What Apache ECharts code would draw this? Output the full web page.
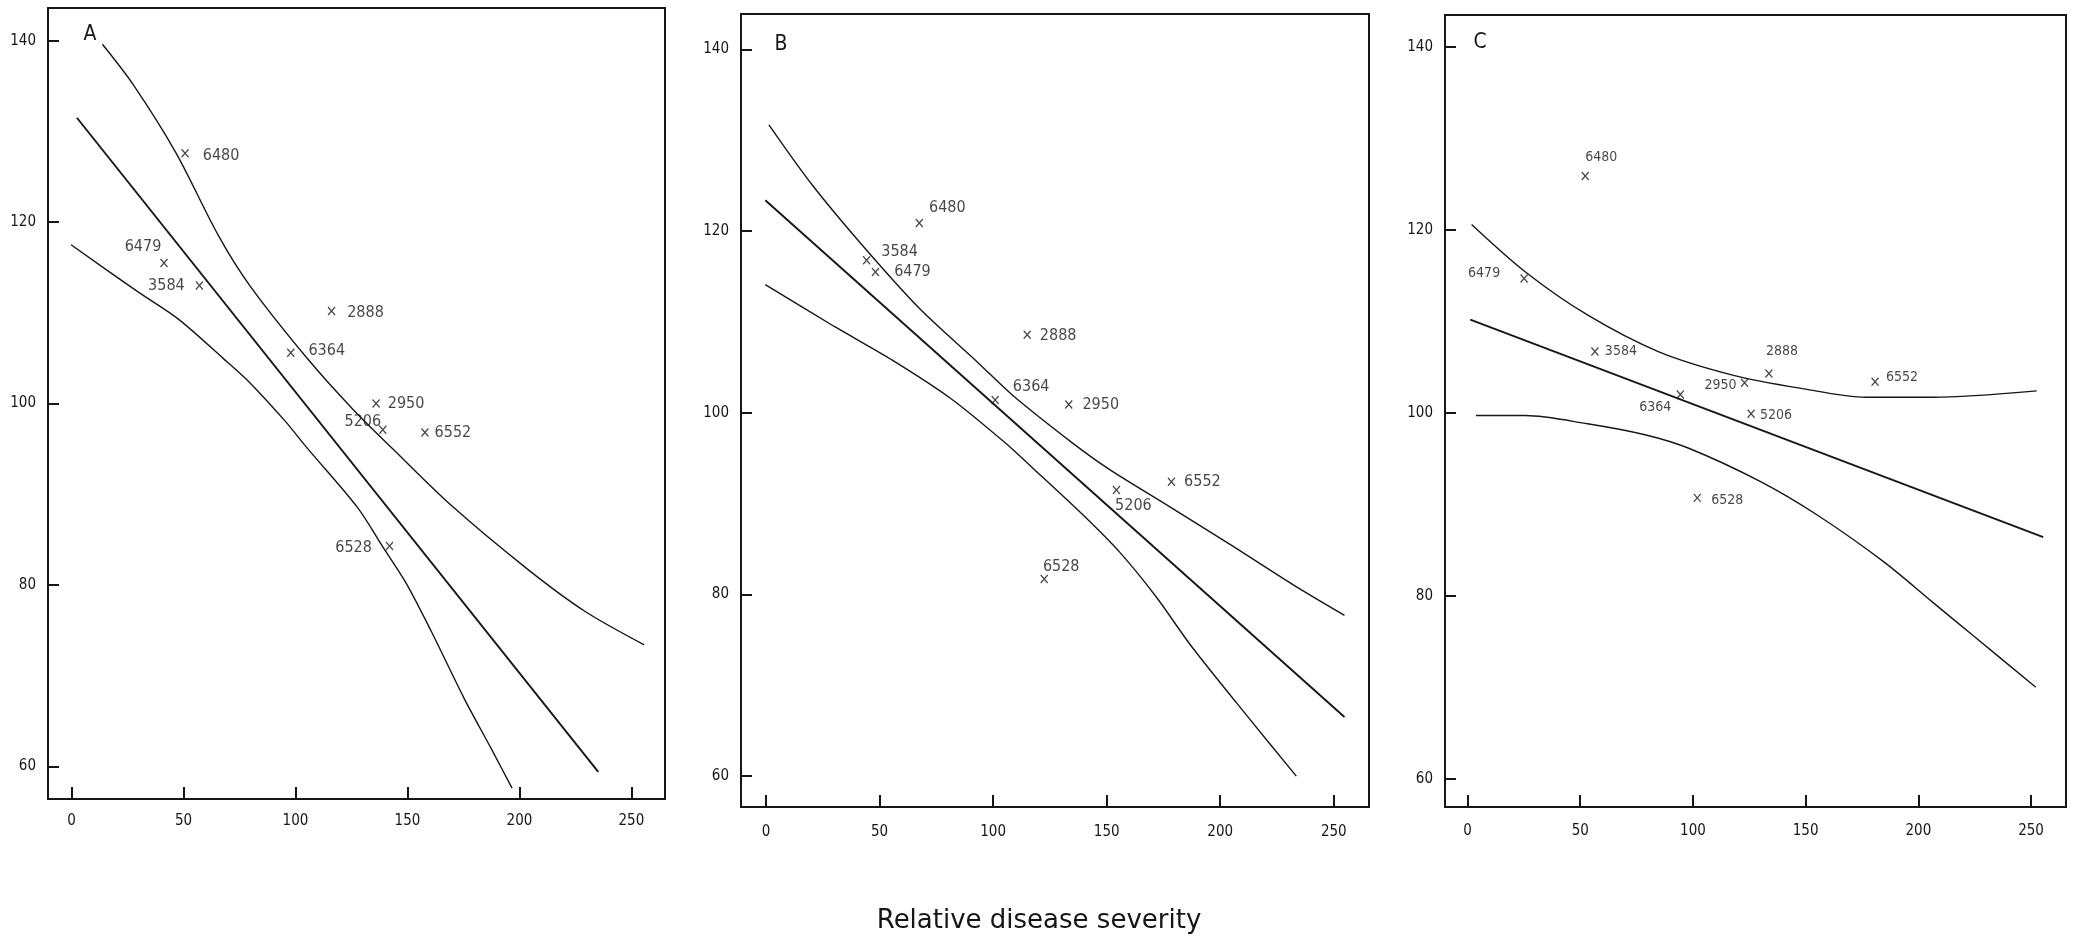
<!DOCTYPE html>
<html><head><meta charset="utf-8">
<script src="https://cdn.jsdelivr.net/npm/echarts@6/dist/echarts.min.js"></script>
<style>html,body{margin:0;padding:0;background:#fff}#chart{width:2073px;height:937px}</style>
</head><body><div id="chart"></div>
<script>
// ---------- data ----------
const genotypes = ['6480','6479','3584','2888','6364','2950','5206','6552','6528'];
const xTickValues = [0, 50, 100, 150, 200, 250];
const yTickValues = [60, 80, 100, 120, 140];
const panelNames = ['A', 'B', 'C'];
const xAxisTitle = 'Relative disease severity';

// Panel A
const aSeverity = [50.7, 41.3, 57.1, 116.1, 97.9, 136.0, 139.0, 157.8, 142.0];
const aValue    = [127.6, 115.5, 113.0, 110.2, 105.6, 100.0, 97.1, 96.8, 84.3];
const aUpper = [[13.8,139.6],[27.7,135.1],[46.7,127.6],[65.6,118.5],[79.6,113.0],[105.5,104.9],[125.5,99.4],[143.4,95.0],[169.4,88.8],[203.3,81.8],[229.2,77.1],[255.7,73.4]];
const aFit   = [[2.4,131.5],[235.2,59.4]];
const aLower = [[-0.2,117.5],[29.7,112.3],[47.7,109.3],[67.6,105.0],[79.6,102.3],[95.6,98.0],[104.5,95.3],[127.5,88.6],[139.0,84.2],[149.4,80.2],[160.4,75.0],[175.3,67.5],[187.3,62.0],[196.7,57.6]];

// Panel B
const bSeverity = [67.5, 48.2, 44.3, 115.0, 100.9, 133.3, 154.3, 178.5, 122.5];
const bValue    = [120.9, 115.5, 116.8, 108.6, 101.4, 100.9, 91.5, 92.4, 81.7];
const bUpper = [[1.3,131.7],[20.3,125.1],[42.9,118.3],[67.5,111.5],[93.0,105.6],[108.7,101.9],[134.3,96.8],[151.0,93.8],[177.5,89.7],[205.0,85.4],[232.5,81.0],[254.7,77.7]];
const bFit   = [[-0.3,123.4],[254.7,66.5]];
const bLower = [[-0.3,114.1],[30.1,109.5],[55.6,105.8],[81.2,101.6],[104.8,96.8],[117.5,93.9],[140.2,88.6],[155.9,84.6],[171.6,79.8],[187.3,74.3],[212.9,66.3],[233.5,60.0]];

// Panel C
const cSeverity = [52.2, 25.1, 56.5, 133.7, 94.4, 122.9, 125.8, 180.8, 101.9];
const cValue    = [125.9, 114.7, 106.7, 104.3, 102.0, 103.3, 99.9, 103.4, 90.7];
const cUpper = [[1.8,120.6],[25.7,115.4],[53.2,110.7],[84.6,106.7],[118.0,104.1],[147.4,102.7],[176.9,101.7],[206.3,101.7],[252.5,102.4]];
const cFit   = [[1.2,110.2],[255.4,86.4]];
const cLower = [[3.7,99.7],[25.7,99.7],[53.2,98.8],[78.7,97.6],[98.4,96.1],[129.8,92.5],[155.3,88.8],[184.7,83.7],[206.3,79.3],[224.0,75.7],[252.1,70.0]];

// ---------- layout / style (positions in px) ----------
const FONT = '"DejaVu Sans Condensed", "DejaVu Sans", sans-serif';
const INK = '#161616';
const layout = [
  { grid: {left: 48, top: 8, width: 617, height: 791}, xr: [-10.5, 265], yr: [56.4, 143.6], xMargin: 15, letter: [90, 35], labelSize: 16,
    off: [[36,3],[-21,-16],[-33,0],[34,2],[36,-2],[30,0],[-20,-8],[28,0],[-36,2]] },
  { grid: {left: 741, top: 14, width: 628, height: 793}, xr: [-11, 265.5], yr: [56.6, 143.9], xMargin: 18, letter: [781, 45], labelSize: 16,
    off: [[28,-15],[37,0],[33,-8],[31,1],[36,-13],[32,0],[17,16],[31,0],[17,-12]] },
  { grid: {left: 1445, top: 15, width: 621, height: 792}, xr: [-10, 265.5], yr: [56.9, 143.5], xMargin: 17, letter: [1480, 43], labelSize: 14,
    off: [[16,-19],[-40,-5],[26,0],[13,-22],[-25,13],[-24,3],[25,2],[27,-4],[30,2]] }
];

const panels = [
  {sev: aSeverity, val: aValue, upper: aUpper, fit: aFit, lower: aLower},
  {sev: bSeverity, val: bValue, upper: bUpper, fit: bFit, lower: bLower},
  {sev: cSeverity, val: cValue, upper: cUpper, fit: cFit, lower: cLower}
];

const grids = [], xAxes = [], yAxes = [], series = [], graphics = [];
panels.forEach((p, i) => {
  const L = layout[i];
  grids.push(Object.assign({show: true, borderColor: INK, borderWidth: 2, containLabel: false}, L.grid));
  xAxes.push({
    type: 'value', gridIndex: i, min: L.xr[0], max: L.xr[1], position: 'bottom',
    axisLine: {show: true, onZero: false, lineStyle: {color: INK, width: 2}}, splitLine: {show: false},
    axisTick: {show: true, inside: true, length: 12, customValues: xTickValues, lineStyle: {color: INK, width: 2}},
    axisLabel: {show: true, customValues: xTickValues, margin: L.xMargin, color: INK, fontFamily: FONT, fontSize: 15}
  });
  yAxes.push({
    type: 'value', gridIndex: i, min: L.yr[0], max: L.yr[1], position: 'left',
    axisLine: {show: true, onZero: false, lineStyle: {color: INK, width: 2}}, splitLine: {show: false},
    axisTick: {show: true, inside: true, length: 11, customValues: yTickValues, lineStyle: {color: INK, width: 2}},
    axisLabel: {show: true, customValues: yTickValues, margin: 12, color: INK, fontFamily: FONT, fontSize: 15}
  });

  const lineBase = {type: 'line', xAxisIndex: i, yAxisIndex: i, showSymbol: false, silent: true, smooth: 0.3, z: 2};
  series.push(Object.assign({}, lineBase, {name: panelNames[i] + ' upper', data: p.upper, lineStyle: {color: INK, width: 1.4}}));
  series.push(Object.assign({}, lineBase, {name: panelNames[i] + ' fit', data: p.fit, smooth: false, lineStyle: {color: INK, width: 1.9}}));
  series.push(Object.assign({}, lineBase, {name: panelNames[i] + ' lower', data: p.lower, lineStyle: {color: INK, width: 1.4}}));
  series.push({
    type: 'scatter', name: panelNames[i] + ' genotypes', xAxisIndex: i, yAxisIndex: i, silent: true, z: 3,
    symbol: 'path://M0 0L10 10M10 0L0 10', symbolSize: [7, 8],
    itemStyle: {color: 'transparent', borderColor: INK, borderWidth: 1.3},
    data: p.sev.map((x, k) => ({
      value: [x, p.val[k]], name: genotypes[k],
      label: {show: true, position: 'inside', formatter: genotypes[k], offset: L.off[k],
              color: INK, fontFamily: FONT, fontSize: L.labelSize}
    }))
  });
  graphics.push({type: 'text', x: L.letter[0], y: L.letter[1],
    style: {text: panelNames[i], fill: INK, font: '21px ' + FONT, textAlign: 'center', textVerticalAlign: 'middle'}});
});
graphics.push({type: 'text', x: 1039, y: 921,
  style: {text: xAxisTitle, fill: INK, font: '26px "DejaVu Sans", sans-serif', textAlign: 'center', textVerticalAlign: 'middle'}});

const chart = echarts.init(document.getElementById('chart'), null, {renderer: 'canvas'});
chart.setOption({
  animation: false, backgroundColor: '#fff',
  grid: grids, xAxis: xAxes, yAxis: yAxes, series: series, graphic: graphics
});
</script></body></html>
